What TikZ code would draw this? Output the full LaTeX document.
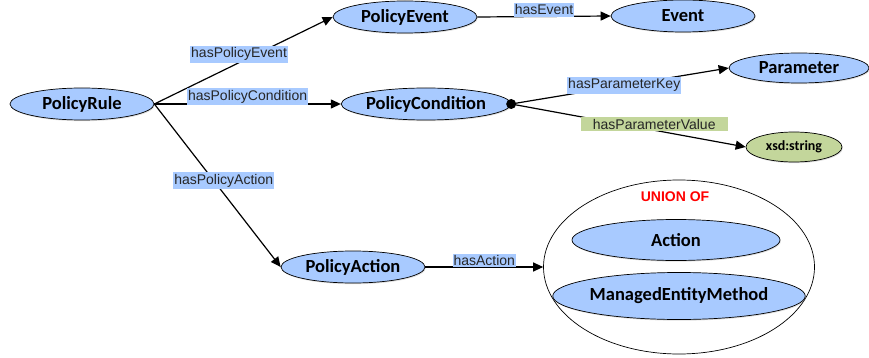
\documentclass[tikz,border=0pt]{standalone}
\usepackage{fontspec}
\setmainfont{Carlito}
\newfontfamily\arialfont{Liberation Sans}
\usetikzlibrary{positioning,calc,arrows.meta,shapes,shadows}
\definecolor{clsblue}{RGB}{168,202,255}
\definecolor{valgreen}{RGB}{195,214,155}
\tikzset{%
  arrow/.style = {
    -{Triangle[length=10pt,width=9pt]},
    line width = 1.2pt,
    draw = #1,
  },
  arrow/.default = {black},
  cls/.style = {
    ellipse,
    draw = black,
    line width = 0.7pt,
    fill = #1,
    drop shadow = {opacity=0.25, shadow xshift=0.8pt, shadow yshift=-1.2pt},
    inner sep = 0pt,
    minimum width = 144pt,
    minimum height = 32pt,
    font = \fontsize{18.5}{20}\selectfont\bfseries,
  },
  cls/.default = {clsblue},
  lbl/.style = {
    fill = #1,
    inner xsep = 1pt,
    inner ysep = 1.8pt,
    text = black!85,
    font = \arialfont\fontsize{14}{15}\selectfont,
  },
  lbl/.default = {clsblue},
}

\begin{document}
\begin{tikzpicture}[x=1pt,y=-1pt]
\useasboundingbox (0,0) rectangle (869,358);
\node(rule)   [cls] at (82,104)  {PolicyRule};
\node(pevent) [cls] at (405,17)  {PolicyEvent};
\node(event)  [cls] at (683,16)  {Event};
\node(pcond)  [cls, minimum width=157pt] at (426,104) {PolicyCondition};
\node(param)  [cls, minimum width=140pt, minimum height=30pt] at (799,68) {Parameter};
\node(xsd)    [cls=valgreen, minimum width=96pt, minimum height=30pt,
               font=\fontsize{14}{16}\selectfont\bfseries] at (794,147) {xsd:string};
\node(pact)   [cls] at (353,267) {PolicyAction};
\node(union)  [ellipse, draw, line width=0.7pt, minimum width=271pt, minimum height=174pt] at (679,267) {};
\node(uof)    [text=red, font=\arialfont\bfseries\fontsize{14}{16}\selectfont] at (675,197) {UNION OF};
\node(action) [cls, minimum width=208pt, minimum height=41pt] at (676,240) {Action};
\node(method) [cls, minimum width=238pt, minimum height=47pt] at (679,296) {ManagedEntityMethod};
\node(dot)    [circle, fill, inner sep=0pt, minimum size=10pt] at (pcond.east) {};

\draw[arrow] (rule.east) -- node[lbl, pos=0.475, above=-0.5pt] {hasPolicyEvent} (pevent.west);
\draw[arrow] (rule.east) -- node[lbl, pos=0.5, above=-1.5pt] {hasPolicyCondition} (pcond.west);
\draw[arrow] (rule.east) -- node[lbl, pos=0.47, xshift=10pt] {hasPolicyAction} (pact.west);
\draw[arrow] (pevent.east) -- node[lbl, pos=0.5, above=-1pt] {hasEvent} (event.west);
\draw[arrow] (dot.center) -- node[lbl, pos=0.52] {hasParameterKey} (param.west);
\draw[arrow] (dot.center) -- node[lbl=valgreen, pos=0.61, yshift=6pt, inner xsep=12pt] {hasParameterValue} (xsd.west);
\draw[arrow] (pact.east) -- node[lbl, pos=0.5, above=-1pt] {hasAction} (union.west);
\end{tikzpicture}
\end{document}
